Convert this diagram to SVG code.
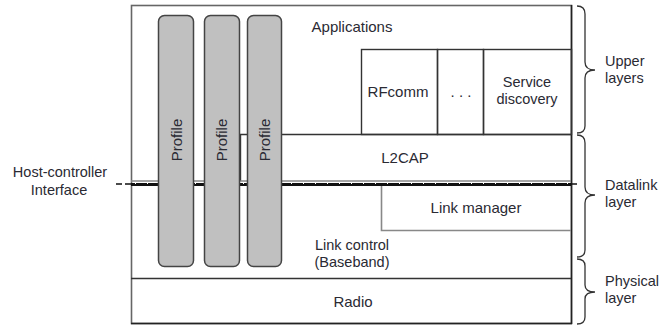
<svg xmlns="http://www.w3.org/2000/svg" width="662" height="326" viewBox="0 0 662 326">
<style>
text{font-family:"Liberation Sans",Arial,sans-serif;font-size:15px;fill:#2a2a33}
.m{text-anchor:middle}
.s{font-size:14.5px}
.box{fill:none;stroke:#333;stroke-width:1.4}
.gl{fill:none;stroke:#888;stroke-width:1.6}
.prof{fill:#c0c0c0;stroke:#444;stroke-width:1.5}
.brace{fill:none;stroke:#333;stroke-width:1.3}
</style>
<rect width="662" height="326" fill="#fff"/>
<g id="stack">
<rect x="131.5" y="5.5" width="440" height="318" fill="#fff" stroke="#666" stroke-width="1.6"/>
<line x1="571.5" y1="5" x2="571.5" y2="324" stroke="#222" stroke-width="1.5"/>
<line x1="131" y1="323.5" x2="572" y2="323.5" stroke="#222" stroke-width="1.5"/>
</g>
<g id="applications">
<text class="m" x="352" y="32">Applications</text>
</g>
<g id="rfcomm">
<rect class="box" x="361.5" y="49.5" width="76" height="85"/>
<text class="m" x="398" y="97">RFcomm</text>
</g>
<g id="dots">
<rect class="box" x="437.5" y="49.5" width="46" height="85"/>
<text class="m" x="461" y="97">. . .</text>
</g>
<g id="service-discovery">
<rect class="box" x="483.5" y="49.5" width="88" height="85"/>
<text class="m s" x="527" y="87">Service</text>
<text class="m s" x="527" y="104">discovery</text>
</g>
<g id="l2cap">
<line class="box" x1="240" y1="134.5" x2="571" y2="134.5"/>
<line class="box" x1="240.5" y1="134" x2="240.5" y2="181"/>
<line class="gl" x1="131" y1="181" x2="571" y2="181"/>
<text class="m" x="405" y="163">L2CAP</text>
</g>
<g id="hci">
<line x1="131" y1="184.5" x2="571" y2="184.5" stroke="#111" stroke-width="3"/>
<line x1="131" y1="183.5" x2="571" y2="183.5" stroke="#fff" stroke-width="1" stroke-dasharray="1 11" stroke-dashoffset="-4"/>
<line x1="116" y1="184" x2="131" y2="184" stroke="#111" stroke-width="1.5" stroke-dasharray="6 3"/>
<line x1="571" y1="184" x2="580" y2="184" stroke="#111" stroke-width="1.5" stroke-dasharray="6 3"/>
<text class="m s" x="60" y="177">Host-controller</text>
<text class="m s" x="59" y="195">Interface</text>
</g>
<g id="link-manager">
<path class="gl" d="M381.5,186 V230.5 H571"/>
<text class="m" x="476" y="213">Link manager</text>
</g>
<g id="link-control">
<line class="box" x1="131" y1="278.5" x2="571" y2="278.5"/>
<text class="m s" x="352" y="250">Link control</text>
<text class="m s" x="352" y="267">(Baseband)</text>
</g>
<g id="radio">
<text class="m" x="353" y="307">Radio</text>
</g>
<g id="profile-1">
<rect class="prof" x="158.5" y="15.5" width="35" height="251" rx="6"/>
<text class="m" transform="translate(182,140) rotate(-90)">Profile</text>
</g>
<g id="profile-2">
<rect class="prof" x="204.5" y="15.5" width="35" height="251" rx="6"/>
<text class="m" transform="translate(227,140) rotate(-90)">Profile</text>
</g>
<g id="profile-3">
<rect class="prof" x="247.5" y="15.5" width="34" height="251" rx="6"/>
<text class="m" transform="translate(270,140) rotate(-90)">Profile</text>
</g>
<g id="connectors">
<path class="brace" d="M577,6 Q585,6 585,14 L585,62 Q585,70 595,70 Q585,70 585,78 L585,126 Q585,133 577,133"/>
<path class="brace" d="M577,135 Q585,135 585,143 L585,187 Q585,195 595,195 Q585,195 585,203 L585,250 Q585,257 577,257"/>
<path class="brace" d="M577,259 Q585,259 585,266 L585,285 Q585,292 595,292 Q585,292 585,299 L585,317 Q585,324 577,324"/>
</g>
<g id="labels">
<text class="s" x="605" y="66">Upper</text>
<text class="s" x="605" y="83">layers</text>
<text class="s" x="605" y="190">Datalink</text>
<text class="s" x="605" y="207">layer</text>
<text class="s" x="605" y="286">Physical</text>
<text class="s" x="605" y="303">layer</text>
</g>
</svg>
